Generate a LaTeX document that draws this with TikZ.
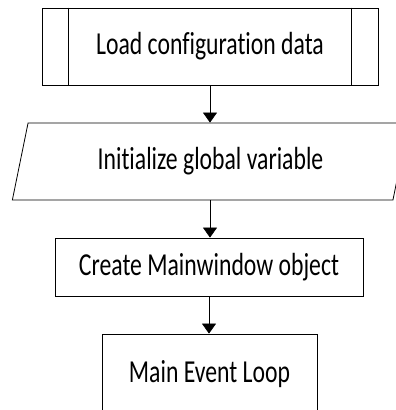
\documentclass[tikz,border=0pt]{standalone}
\usepackage{fontspec}
\setmainfont{Carlito}[Ligatures=NoCommon]
\usetikzlibrary{shapes.geometric,arrows.meta,calc}

% text in the chart is drawn a bit taller than wide
\newcommand{\tallText}[1]{\scalebox{1}[1.35]{#1}}

\begin{document}
\begin{tikzpicture}[x=1pt,y=-1pt,
    box/.style={draw,line width=0.8pt,inner sep=0pt,
      font=\fontsize{23.7}{28}\selectfont},
    flow/.style={-{Triangle[width=14pt,length=10pt]},line width=0.7pt}]
        \useasboundingbox (0,0) rectangle (396,410);
        \clip (0,0) rectangle (396,410);

        \node [box,minimum width=336pt,minimum height=77pt] (load) at (210,46.5) {\tallText{Load configuration data}};
        \draw [line width=0.8pt] ($(load.north west)+(27,0)$) -- ($(load.south west)+(27,0)$);
        \draw [line width=0.8pt] ($(load.north east)+(-27,0)$) -- ($(load.south east)+(-27,0)$);

        \node [box,trapezium,trapezium stretches=true,trapezium left angle=70.7,trapezium right angle=109.3,
          minimum width=397pt,minimum height=77pt] (init) at (210.5,161.5) {\tallText{Initialize global variable}};

        \node [box,minimum width=308pt,minimum height=58pt] (create) at (209,267) {\tallText{Create Mainwindow object}};

        \node [box,minimum width=215pt,minimum height=80pt] (loop) at (209.5,374) {\tallText{Main Event Loop}};

        \draw [flow] (load) -- (load |- init.north);
        \draw [flow] (load |- init.south) -- (load |- create.north);
        \draw [flow] (create) -- (create |- loop.north);
    \end{tikzpicture}
\end{document}
